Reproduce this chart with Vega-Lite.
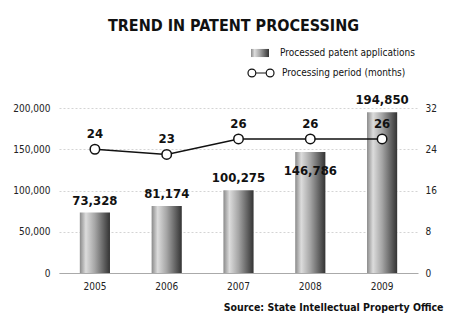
{
  "$schema": "https://vega.github.io/schema/vega-lite/v6.json",
  "width": 359,
  "height": 165,
  "autosize": {"type": "none"},
  "padding": {"left": 59, "top": 108, "right": 32, "bottom": 52},
  "background": "white",
  "title": {
    "text": "TREND IN PATENT PROCESSING",
    "anchor": "middle",
    "frame": "group",
    "offset": 10,
    "dx": -5,
    "font": "DejaVu Sans Condensed",
    "fontSize": 16,
    "fontWeight": "bold",
    "color": "#111"
  },
  "data": {
    "values": [
      {"year": "2005", "applications": 73328, "months": 24},
      {"year": "2006", "applications": 81174, "months": 23},
      {"year": "2007", "applications": 100275, "months": 26},
      {"year": "2008", "applications": 146786, "months": 26},
      {"year": "2009", "applications": 194850, "months": 26}
    ]
  },
  "encoding": {
    "x": {
      "field": "year",
      "type": "nominal",
      "scale": {"paddingInner": 0.58, "paddingOuter": 0.29},
      "axis": {
        "labelAngle": 0,
        "ticks": false,
        "labelPadding": 8,
        "labelFontSize": 10,
        "domainColor": "#aaa",
        "title": "Source: State Intellectual Property Office",
        "titleX": 384,
        "titleY": 37,
        "titleAlign": "right",
        "titleBaseline": "alphabetic",
        "titleFont": "DejaVu Sans Condensed",
        "titleFontSize": 10.5,
        "titleFontWeight": "bold",
        "titleColor": "#111"
      }
    }
  },
  "layer": [
    {
      "encoding": {
        "y": {
          "field": "applications",
          "type": "quantitative",
          "scale": {"domain": [0, 200000]},
          "axis": {
            "orient": "left",
            "values": [0, 50000, 100000, 150000, 200000],
            "format": ",d",
            "title": null,
            "grid": true,
            "gridColor": "#d4d4d4",
            "gridDash": [2, 2],
            "ticks": false,
            "domain": false,
            "labelPadding": 9,
            "labelFontSize": 10
          }
        }
      },
      "layer": [
        {
          "mark": {
            "type": "bar",
            "color": {
              "gradient": "linear",
              "x1": 0, "y1": 0, "x2": 1, "y2": 0,
              "stops": [
                {"offset": 0, "color": "#8a8a8a"},
                {"offset": 0.2, "color": "#dcdcdc"},
                {"offset": 0.5, "color": "#a5a5a5"},
                {"offset": 0.85, "color": "#555555"},
                {"offset": 1, "color": "#333333"}
              ]
            }
          },
          "encoding": {
            "opacity": {
              "datum": "Processed patent applications",
              "type": "ordinal",
              "scale": {"range": [1]},
              "legend": {
                "orient": "none",
                "legendX": 192,
                "legendY": -64,
                "title": null,
                "padding": 0,
                "symbolType": "M-1,-0.45H1V0.45H-1Z",
                "symbolSize": 324,
                "symbolStrokeWidth": 0,
                "labelOffset": 11,
                "labelFont": "DejaVu Sans Condensed",
                "labelFontSize": 10,
                "labelColor": "#111",
                "encode": {
                  "symbols": {
                    "update": {
                      "fill": {
                        "value": {
                          "gradient": "linear",
                          "x1": 0, "y1": 0, "x2": 1, "y2": 0,
                          "stops": [
                            {"offset": 0, "color": "#555555"},
                            {"offset": 0.4, "color": "#999999"},
                            {"offset": 1, "color": "#e0e0e0"}
                          ]
                        }
                      },
                      "opacity": {"value": 1}
                    }
                  }
                }
              }
            }
          }
        },
        {
          "transform": [{"filter": "datum.year !== '2008'"}],
          "mark": {"type": "text", "baseline": "alphabetic", "dy": -8, "font": "DejaVu Sans Condensed", "fontSize": 13, "fontWeight": "bold", "color": "#111"},
          "encoding": {"text": {"field": "applications", "type": "quantitative", "format": ",d"}}
        },
        {
          "transform": [{"filter": "datum.year === '2008'"}],
          "mark": {"type": "text", "baseline": "alphabetic", "dy": 23, "font": "DejaVu Sans Condensed", "fontSize": 13, "fontWeight": "bold", "color": "#111"},
          "encoding": {"text": {"field": "applications", "type": "quantitative", "format": ",d"}}
        }
      ]
    },
    {
      "encoding": {
        "y": {
          "field": "months",
          "type": "quantitative",
          "scale": {"domain": [0, 32]},
          "axis": {
            "orient": "right",
            "values": [0, 8, 16, 24, 32],
            "title": null,
            "grid": false,
            "ticks": false,
            "domain": false,
            "labelPadding": 7,
            "labelFontSize": 10
          }
        }
      },
      "layer": [
        {
          "mark": {"type": "line", "strokeWidth": 1.5},
          "encoding": {
            "stroke": {
              "datum": "Processing period (months)",
              "scale": {"range": ["#111111"]},
              "legend": {
                "orient": "none",
                "legendX": 188,
                "legendY": -49,
                "title": null,
                "padding": 0,
                "symbolType": "M-1,0A0.3,0.3 0 1,1 -0.4,0A0.3,0.3 0 1,1 -1,0Z M-0.4,0L0.4,0 M0.4,0A0.3,0.3 0 1,1 1,0A0.3,0.3 0 1,1 0.4,0Z",
                "symbolSize": 676,
                "symbolFillColor": "white",
                "symbolStrokeWidth": 1.2,
                "labelOffset": 7,
                "labelFont": "DejaVu Sans Condensed",
                "labelFontSize": 10,
                "labelColor": "#111"
              }
            }
          }
        },
        {
          "mark": {"type": "point", "filled": true, "fill": "white", "stroke": "#111", "strokeWidth": 1.5, "size": 90, "opacity": 1}
        },
        {
          "mark": {"type": "text", "baseline": "alphabetic", "dy": -11, "font": "DejaVu Sans Condensed", "fontSize": 13, "fontWeight": "bold", "color": "#111"},
          "encoding": {"text": {"field": "months", "type": "quantitative"}}
        }
      ]
    }
  ],
  "resolve": {"scale": {"y": "independent"}},
  "config": {
    "view": {"stroke": null},
    "font": "DejaVu Sans Condensed",
    "axis": {"labelFont": "DejaVu Sans Condensed", "labelColor": "#222"}
  }
}
